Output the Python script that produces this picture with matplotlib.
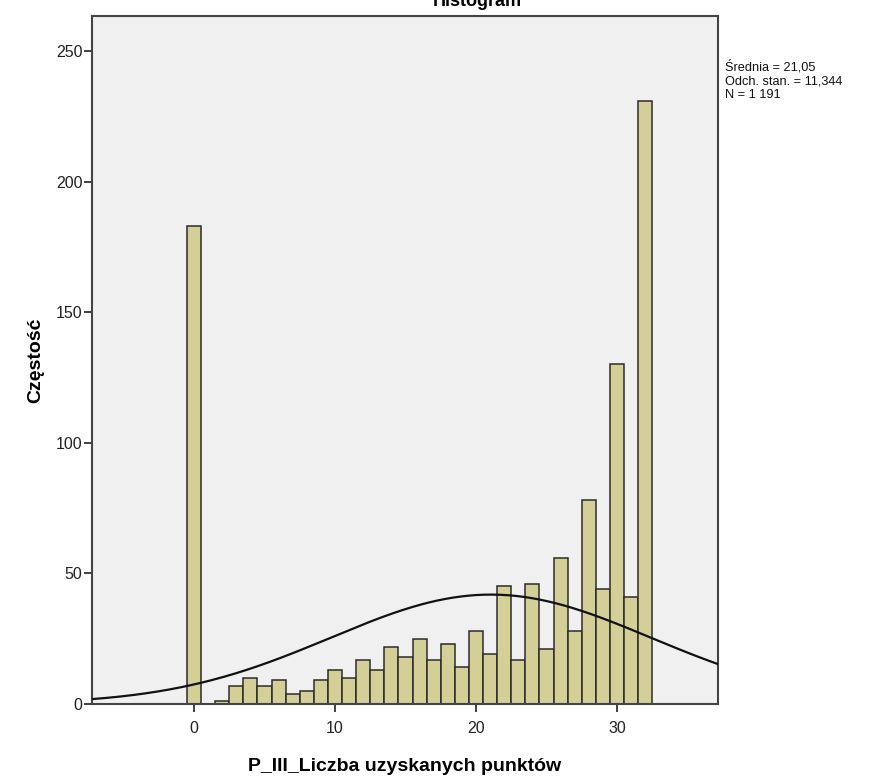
import matplotlib
matplotlib.use('Agg')
import matplotlib.pyplot as plt
import numpy as np

# Liczba uzyskanych punktow i czestosci
points = list(range(0, 33))
counts = [183, 0, 1, 7, 10, 7, 9, 4, 5, 9, 13, 10, 17, 13, 22, 18, 25,
          17, 23, 14, 28, 19, 45, 17, 46, 21, 56, 28, 78, 44, 130, 41, 231]

mean_val = 21.05
std_val = 11.344
n_total = 1191

stats_lines = ['Średnia = 21,05', 'Odch. stan. = 11,344', 'N = 1 191']
x_ticks = [0, 10, 20, 30]
y_ticks = [0, 50, 100, 150, 200, 250]


def main():
    plt.rcParams['font.family'] = ['Liberation Sans', 'DejaVu Sans']

    fig = plt.figure(figsize=(8.87, 7.82), dpi=100)
    ax = fig.add_axes([92 / 887, 78 / 782, 626 / 887, 688 / 782])
    ax.set_facecolor('#f0f0f0')

    ax.bar(points, counts, width=1.0, color='#d3cf97',
           edgecolor='#2b2b2b', linewidth=1.1, zorder=2)

    xlim = (-7.23, 37.16)
    xs = np.linspace(xlim[0], xlim[1], 400)
    pdf = np.exp(-0.5 * ((xs - mean_val) / std_val) ** 2) / (std_val * np.sqrt(2 * np.pi))
    ax.plot(xs, n_total * pdf, color='#111111', linewidth=1.6, zorder=3)

    ax.set_xlim(xlim)
    ax.set_ylim(0, 263.4)
    ax.set_xticks(x_ticks)
    ax.set_yticks(y_ticks)
    ax.tick_params(axis='both', direction='out', length=6, width=1.3,
                   color='#333333', labelsize=11.5, labelcolor='#222222')
    ax.tick_params(axis='x', pad=6)
    ax.tick_params(axis='y', pad=1)
    for s in ax.spines.values():
        s.set_color('#444444')
        s.set_linewidth(1.5)

    ax.set_xlabel('P_III_Liczba uzyskanych punktów', fontsize=14,
                  fontweight='bold', labelpad=16)
    ax.set_ylabel('Częstość', fontsize=14, fontweight='bold', labelpad=8)

    fig.text(477 / 887, 1 - 6 / 782, 'Histogram', ha='center', va='baseline',
             fontsize=13, fontweight='bold')

    fig.text(725 / 887, 1 - 60 / 782, '\n'.join(stats_lines), ha='left',
             va='top', fontsize=9.2, linespacing=1.2, color='#111111')

    fig.savefig('out.png', dpi=100)


if __name__ == '__main__':
    main()
